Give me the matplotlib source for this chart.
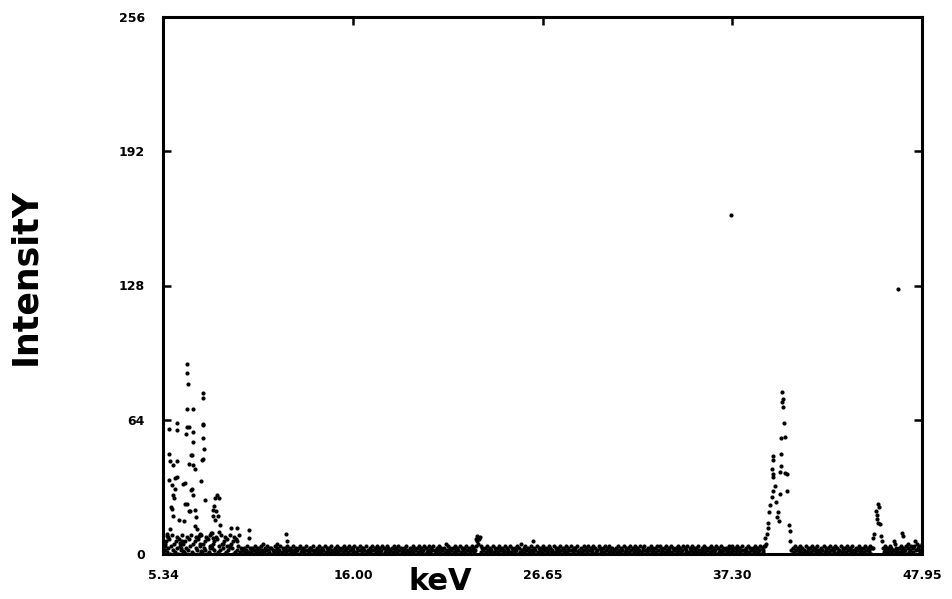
import numpy as np
import matplotlib
matplotlib.use("Agg")
import matplotlib.pyplot as plt

# ---- axis layout values ----
x_ticks = [5.34, 16.00, 26.65, 37.30, 47.95]
x_tick_labels = ["5.34", "16.00", "26.65", "37.30", "47.95"]
y_ticks = [0, 64, 128, 192, 256]
y_tick_labels = ["0", "64", "128", "192", "256"]

# ---- low-count continuum: one digit per channel (counts 0-9) ----
cont_low_start, cont_low_end = 5.34, 9.60
cont_low = ("0526183704925163807429516308274915063827049153628071943526"
            "087142953608172495360817249")

cont_mid_start, cont_mid_end = 9.65, 39.20
cont_mid = ("13202312410321302413203142013240213302142031240132031420312"
            "04213203412031240213302412031420132041320314201320413203142"
            "20314203124013204213320412031240231420312403120431203142031"
            "42031203142013204132031420312403124013240213204132031520413"
            "20314213204132031420312403124657841320314201320413203142031"
            "24031204132031240315203142031240213204132031420312403120413"
            "20314203124013204213320412031240231420312403120431203142031"
            "42031203142013204132031420312403124013240213204132031420413"
            "20314213204132031420312403124013241320314201320413203142031"
            "2403120413203124031420314203124021320413203142031240312445")

cont_hi_start, cont_hi_end = 40.62, 45.20
cont_hi = ("20314203124031204132031420312402132041320314203124031204132"
           "031420312402132041320314203124033")

cont_end_start, cont_end_end = 45.75, 47.95
cont_end = "31420312403126513203142031240531240314625342125"

# ---- peak region channels (keV, counts) ----
peak_a_kev = [6.70, 6.70, 6.74, 7.57, 7.60, 6.67, 7.04, 6.11, 5.69, 6.11,
              6.70, 6.78, 7.01, 6.63, 7.60, 7.57, 7.04, 7.60, 7.66, 7.60,
              6.97, 5.69, 5.73, 6.11, 5.92, 7.04, 7.12, 7.53, 6.03, 5.85,
              7.46, 6.59, 6.97, 7.04, 5.96, 6.56, 7.68, 8.35, 8.24, 8.50,
              5.85, 5.92, 6.22, 6.86, 7.12, 7.19, 8.13, 8.16, 8.28, 5.73,
              6.52, 7.12, 7.23, 7.34, 8.02, 8.54, 8.47, 9.14, 6.29, 6.37,
              5.55, 5.47, 7.42, 7.49, 7.98, 7.91, 8.73, 8.92, 9.10, 6.00,
              5.92, 5.81, 5.55, 5.44, 6.41, 6.48, 6.90, 6.70, 6.82, 7.42,
              7.79, 7.98, 8.20, 8.32, 8.43, 8.09, 8.16, 9.48, 9.51, 10.15,
              10.15, 10.97, 11.72, 12.25, 12.28, 5.66, 6.11, 6.93, 6.82, 6.48]
peak_a_cts = [90.7, 86.1, 80.9, 76.6, 74.5, 69.2, 69.2, 62.4, 59.8, 59.1,
              60.7, 60.4, 58.2, 57.2, 62.0, 61.4, 53.4, 55.3, 50.1, 45.3,
              47.1, 47.9, 44.2, 44.2, 42.3, 42.6, 40.7, 44.9, 36.2, 32.7,
              35.0, 33.7, 30.8, 27.9, 26.9, 23.7, 25.6, 27.9, 26.6, 26.9,
              21.5, 18.3, 16.3, 20.5, 21.2, 17.6, 20.8, 18.3, 16.3, 11.9,
              15.7, 13.5, 11.9, 8.7, 10.0, 13.8, 10.6, 12.2, 5.4, 3.0,
              8.7, 3.8, 4.7, 1.4, 3.8, 0.6, 4.7, 3.8, 3.5, 31.1,
              27.9, 22.3, 9.5, 4.7, 6.3, 1.4, 30.3, 23.9, 20.7, 9.5,
              7.8, 3.0, 23.1, 20.7, 18.3, 10.2, 7.8, 6.3, 12.2, 11.5,
              7.8, 4.7, 4.7, 9.5, 6.3, 35.1, 36.7, 47.1, 43.1, 33.5]

peak_b_kev = [40.09, 40.13, 40.09, 40.16, 40.20, 40.05, 40.28, 40.05, 39.60,
              39.57, 39.53, 39.60, 39.57, 40.05, 39.98, 40.28, 40.36, 39.68,
              39.60, 39.53, 39.98, 40.36, 39.75, 39.42, 39.34, 39.87, 39.83,
              39.94, 39.30, 39.30, 39.23, 39.15, 40.50, 40.54, 40.54]
peak_b_cts = [77.4, 73.9, 72.6, 70.3, 62.6, 55.3, 55.9, 47.9, 46.6,
              44.7, 40.7, 38.3, 36.7, 41.8, 38.9, 38.6, 38.0, 32.2,
              30.0, 27.4, 28.7, 30.0, 24.9, 23.2, 20.0, 20.0, 17.5,
              15.5, 14.9, 12.6, 9.5, 7.8, 13.9, 11.0, 6.3]

peak_c_kev = [45.48, 45.52, 45.37, 45.44, 45.41, 45.48, 45.59, 45.26, 45.22,
              45.63, 45.70, 46.83, 46.87]
peak_c_cts = [23.9, 22.3, 20.3, 18.8, 16.8, 14.9, 14.3, 9.5, 7.8,
              8.8, 6.3, 9.8, 8.5]

# isolated channels above the continuum
spike_kev = [22.97, 22.91, 26.11, 37.23, 46.60]
spike_cts = [8.7, 7.2, 6.3, 161.5, 126.4]


def continuum(start, end, digits):
    counts = np.array([int(c) for c in digits], dtype=float)
    return np.linspace(start, end, counts.size), counts


segments = [continuum(cont_low_start, cont_low_end, cont_low),
            continuum(cont_mid_start, cont_mid_end, cont_mid),
            continuum(cont_hi_start, cont_hi_end, cont_hi),
            continuum(cont_end_start, cont_end_end, cont_end)]

energy = np.concatenate([s[0] for s in segments]
                        + [peak_a_kev, peak_b_kev, peak_c_kev, spike_kev])
counts = np.concatenate([s[1] for s in segments]
                        + [peak_a_cts, peak_b_cts, peak_c_cts, spike_cts])

fig = plt.figure(figsize=(9.53, 5.99), dpi=100)
ax = fig.add_axes([163 / 953, 1 - 554 / 599, (922 - 163) / 953, (554 - 17) / 599])

ax.plot(energy, counts, linestyle="none", marker="o", markersize=3.0,
        markeredgewidth=0, color="black")

ax.set_xlim(x_ticks[0], x_ticks[-1])
ax.set_ylim(0, 256)
ax.set_xticks(x_ticks)
ax.set_xticklabels(x_tick_labels)
ax.set_yticks(y_ticks)
ax.set_yticklabels(y_tick_labels)

for side in ax.spines.values():
    side.set_linewidth(2.2)
ax.tick_params(direction="in", length=6, width=1.8, top=True, right=True,
               labelsize=9)
ax.tick_params(axis="x", pad=11)
ax.tick_params(axis="y", pad=13)
for lab in ax.get_xticklabels() + ax.get_yticklabels():
    lab.set_fontweight("bold")

fig.text(440 / 953, 1 - 582 / 599, "keV", fontsize=22, fontweight="bold",
         ha="center", va="center")
fig.text(25 / 953, 1 - 277 / 599, "IntensitY", fontsize=25, fontweight="bold",
         rotation=90, ha="center", va="center")

fig.savefig("out.png", dpi=100, facecolor="white")
